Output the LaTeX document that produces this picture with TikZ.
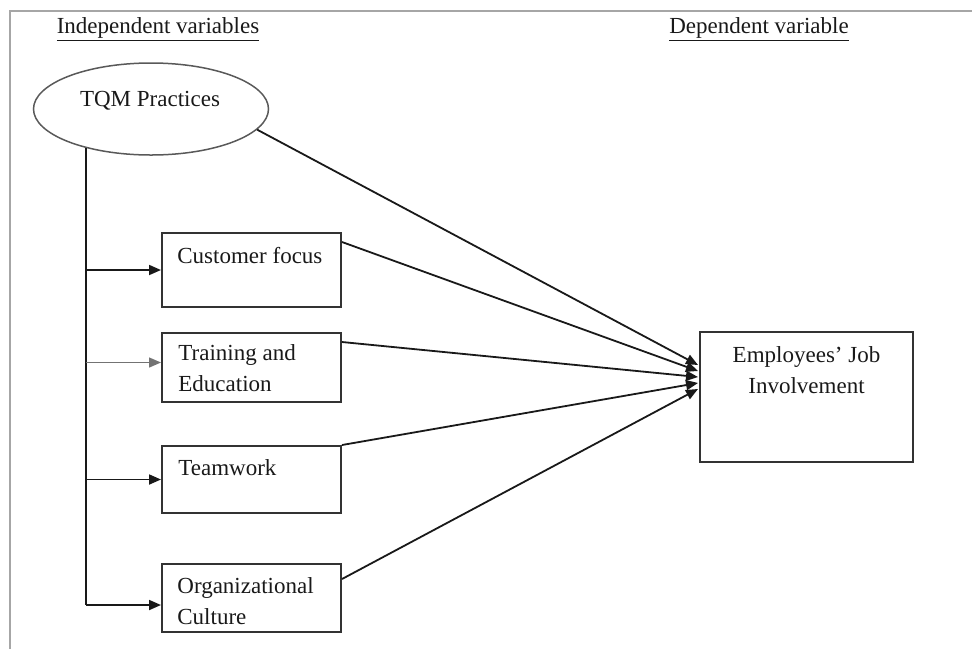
\documentclass[tikz,border=0pt]{standalone}
\usepackage{fontspec}
\setmainfont{Liberation Serif}
\usetikzlibrary{arrows.meta,calc,shapes.geometric}
\begin{document}
\begin{tikzpicture}[x=0.5pt,y=-0.5pt,
  lbl/.style={inner sep=0pt, font=\fontsize{11.5}{15.5}\selectfont, text=black!90, align=left},
  boxn/.style={draw=black!80, line width=1pt, minimum width=89.5pt, inner sep=0pt},
  conn/.style={line width=0.9pt, draw=black!90},
  tip/.style={-{Triangle[length=6pt,width=5pt]}}
]
\useasboundingbox (0,0) rectangle (972,649);
\draw[black!35, line width=1pt] (10,649) -- (10,11) -- (972,11);

% headers
\node[lbl, anchor=base] (hind) at (158,33) {\underline{Independent variables}};
\node[lbl, anchor=base] (hdep) at (759,33) {\underline{Dependent variable}};

% ellipse
\node[ellipse, draw=black!65, line width=0.75pt, minimum width=117.5pt, minimum height=46pt, inner sep=0pt] (tqm) at (151,109) {};
\node[lbl, anchor=north] (tqmt) at (150,91) {TQM Practices};

% boxes
\node[boxn, minimum height=37pt] (cf) at (251.5,270) {};
\node[boxn, minimum height=34.5pt] (tr) at (251.5,367.5) {};
\node[boxn, minimum height=33.5pt] (tw) at (251.5,479.5) {};
\node[boxn, minimum height=34pt] (oc) at (251.5,598) {};
\node[boxn, minimum width=106.5pt, minimum height=65pt] (ej) at (806.5,397) {};

\node[lbl, anchor=north west] (cft) at (177,247) {Customer focus};
\node[lbl, anchor=north west] (trt) at (178,344) {Training and\\Education};
\node[lbl, anchor=north west] (twt) at (178,459) {Teamwork};
\node[lbl, anchor=north west] (oct) at (177,577) {Organizational\\Culture};
\node[lbl, anchor=north, align=center] (ejt) at (806.5,346) {Employees' Job\\Involvement};

% trunk and branches
\coordinate (trin) at ($(tr.west)+(0,-5)$);
\coordinate (ocin) at ($(oc.west)+(0,7)$);
\draw[conn] (tqm.211) -- (tqm.211 |- ocin);
\draw[conn,tip] (tqm.211 |- cf.west) -- (cf.west);
\draw[tip, line width=0.7pt, draw=black!55, fill=black!90] (tqm.211 |- trin) -- (trin);
\draw[conn,tip] (tqm.211 |- tw.west) -- (tw.west);
\draw[conn,tip] (tqm.211 |- ocin) -- (ocin);

% to dependent variable
\draw[conn,tip] (tqm.349) -- ($(ej.west)+(-1,-32)$);
\draw[conn,tip] ($(cf.north east)+(0,10)$) -- ($(ej.west)+(-1,-26)$);
\draw[conn,tip] ($(tr.north east)+(0,10)$) -- ($(ej.west)+(-1,-20)$);
\draw[conn,tip] (tw.north east) -- ($(ej.west)+(-1,-14)$);
\draw[conn,tip] ($(oc.north east)+(0,16)$) -- ($(ej.west)+(-1,-8)$);
\end{tikzpicture}
\end{document}
